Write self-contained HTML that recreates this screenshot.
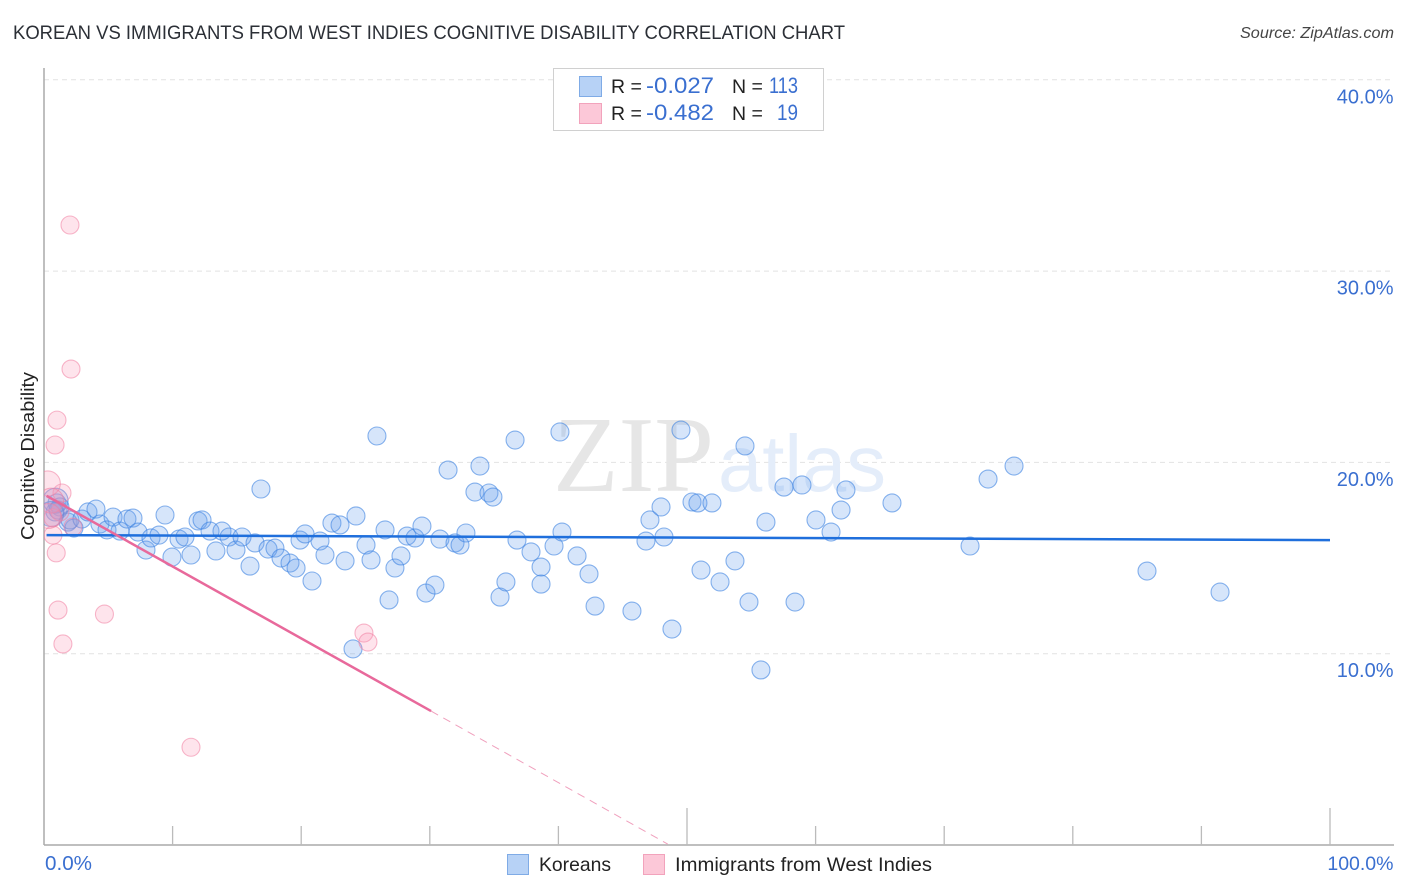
<!DOCTYPE html>
<html lang="en">
<head>
<meta charset="utf-8">
<title>Korean vs Immigrants from West Indies Cognitive Disability Correlation Chart</title>
<style>
html,body{margin:0;padding:0;background:#fff;}
svg{display:block;font-family:"Liberation Sans",sans-serif;}
</style>
</head>
<body>
<svg id="chart" xmlns="http://www.w3.org/2000/svg" width="1406" height="892" viewBox="0 0 1406 892">
  <defs>
    <clipPath id="plot-clip"><rect x="44" y="60" width="1350" height="785"/></clipPath>
  </defs>
  <rect x="0" y="0" width="1406" height="892" fill="#ffffff"/>
  <text x="13" y="39" font-size="19" fill="#2b2f36" textLength="832" lengthAdjust="spacingAndGlyphs">KOREAN VS IMMIGRANTS FROM WEST INDIES COGNITIVE DISABILITY CORRELATION CHART</text>
  <text x="1394" y="38" font-size="15.5" font-style="italic" fill="#444" text-anchor="end" textLength="154" lengthAdjust="spacingAndGlyphs">Source: ZipAtlas.com</text>
  <g id="grid"></g>
  <g>
    <text x="553" y="491" font-family="'Liberation Serif',serif" font-size="108" fill="#e6e6e6" textLength="161" lengthAdjust="spacingAndGlyphs">ZIP</text>
    <text x="718" y="491" font-size="80" fill="#e4edfa" textLength="168" lengthAdjust="spacingAndGlyphs">atlas</text>
  </g>
  <g id="axes">
    <line x1="44" y1="68" x2="44" y2="845" stroke="#aaaaaa" stroke-width="1.5"/>
    <line x1="44" y1="845" x2="1394" y2="845" stroke="#aaaaaa" stroke-width="1.5"/>
  </g>
  <g id="marks" clip-path="url(#plot-clip)"></g>
  <g id="trends"></g>
  <g id="ticklabels"></g>
  <text transform="translate(34,456) rotate(-90)" font-size="18" fill="#222" text-anchor="middle" textLength="168" lengthAdjust="spacingAndGlyphs">Cognitive Disability</text>

  <g>
    <rect x="553.5" y="68.5" width="270" height="62" fill="#ffffff" stroke="#d0d0d0"/>
    <rect x="579.5" y="76.5" width="22" height="20" fill="#b7d2f6" stroke="#7fabe6"/>
    <rect x="579.5" y="103.5" width="22" height="20" fill="#fcc8d8" stroke="#f2a3bc"/>
    <text x="611" y="93" font-size="19.5" fill="#222">R =</text>
    <text x="646" y="93" font-size="22" fill="#3a6fd0" textLength="68" lengthAdjust="spacingAndGlyphs">-0.027</text>
    <text x="732" y="93" font-size="19.5" fill="#222">N =</text>
    <text x="769" y="93" font-size="22" fill="#3a6fd0" textLength="29" lengthAdjust="spacingAndGlyphs">113</text>
    <text x="611" y="120" font-size="19.5" fill="#222">R =</text>
    <text x="646" y="120" font-size="22" fill="#3a6fd0" textLength="68" lengthAdjust="spacingAndGlyphs">-0.482</text>
    <text x="732" y="120" font-size="19.5" fill="#222">N =</text>
    <text x="777" y="120" font-size="22" fill="#3a6fd0" textLength="21" lengthAdjust="spacingAndGlyphs">19</text>
  </g>

  <g>
    <rect x="507.5" y="854.5" width="21" height="20" fill="#b7d2f6" stroke="#7fabe6"/>
    <text x="539" y="871" font-size="19.5" fill="#222" textLength="72" lengthAdjust="spacingAndGlyphs">Koreans</text>
    <rect x="643.5" y="854.5" width="21" height="20" fill="#fcc8d8" stroke="#f2a3bc"/>
    <text x="675" y="871" font-size="19.5" fill="#222" textLength="257" lengthAdjust="spacingAndGlyphs">Immigrants from West Indies</text>
  </g>
</svg>
<script>
// ---- data (x = share %, y = cognitive disability %) ----
const koreansX = [1.01,0.86,1.24,1.09,1.87,2.33,2.02,2.95,3.42,4.04,4.35,4.90,5.37,5.91,6.45,6.92,7.31,7.93,8.32,8.94,9.41,9.95,10.50,10.96,11.43,11.98,12.29,12.91,13.37,13.84,14.39,14.93,15.40,16.02,16.41,16.87,17.42,17.96,18.43,19.13,19.60,19.91,20.30,20.84,21.46,21.85,22.39,23.02,23.41,24.03,24.26,25.04,25.43,25.89,26.52,26.83,27.29,27.76,28.23,28.85,29.39,29.70,30.40,30.79,31.42,31.96,32.35,32.81,33.51,33.90,34.60,34.91,35.46,35.92,36.63,36.78,37.87,38.65,38.65,39.66,40.12,40.28,41.45,42.38,42.85,45.72,46.81,47.12,47.98,48.21,48.83,49.53,50.39,50.85,51.09,51.94,52.57,53.73,54.51,54.82,55.75,56.14,57.54,58.40,58.94,60.03,61.20,61.98,62.36,65.94,72.01,73.41,75.43,85.77,91.45];
const koreansY = [17.88,17.41,17.67,17.51,16.88,16.57,16.99,17.04,17.41,17.56,16.78,16.47,17.14,16.41,17.04,17.09,16.36,15.42,16.05,16.20,17.25,15.05,15.99,16.10,15.16,16.94,16.99,16.41,15.37,16.41,16.10,15.42,16.10,14.58,15.79,18.61,15.47,15.52,15.00,14.74,14.48,15.94,16.26,13.80,15.89,15.16,16.83,16.73,14.85,10.25,17.20,15.68,14.90,21.38,16.47,12.81,14.48,15.11,16.15,16.05,16.67,13.17,13.59,15.99,19.60,15.79,15.68,16.31,18.45,19.81,18.40,18.19,12.96,13.75,21.17,15.94,15.32,14.53,13.64,15.63,21.59,16.36,15.11,14.17,12.49,12.23,15.89,16.99,17.67,16.10,11.29,21.69,17.93,17.88,14.37,17.88,13.75,14.85,20.86,12.70,9.15,16.88,18.71,12.70,18.82,16.99,16.36,17.51,18.56,17.88,15.63,19.13,19.81,14.32,13.22];
const koreansLargeX = [0.90,0.55];
const koreansLargeY = [18.00,17.30];
const westIndiesX = [2.02,2.10,1.01,0.86,1.40,0.70,2.25,1.24,0.70,0.95,1.09,4.70,1.47,11.43,24.88,25.19];
const westIndiesY = [32.41,24.88,22.21,20.91,18.40,16.20,16.62,17.41,17.10,15.27,12.28,12.07,10.51,5.11,11.08,10.61];
const westIndiesLargeX = [0.30,0.55,0.35];
const westIndiesLargeY = [18.90,18.00,17.20];
const koreanTrendX = [0.2,100];
const koreanTrendY = [16.2,15.94];
const westIndiesTrendX = [0.2,30.1];
const westIndiesTrendY = [18.25,7.0];
const westIndiesDashX = [30.1,48.5];
const westIndiesDashY = [7.0,0.05];
const yTicks = [10,20,30,40];
const yTickLabels = ["10.0%","20.0%","30.0%","40.0%"];
const xTicks = [0,10,20,30,40,50,60,70,80,90,100];
const xMajorTicks = [50,100];
const xEndLabels = ["0.0%","100.0%"];

// ---- axis functions ----
const NS = "http://www.w3.org/2000/svg";
const xScale = v => 44 + v * 12.86;
const yScale = v => 845 - v * 19.13;
const marks = document.getElementById("marks");
const trends = document.getElementById("trends");
const grid = document.getElementById("grid");
const axes = document.getElementById("axes");
const labels = document.getElementById("ticklabels");

function make(tag, parent, attrs) {
  const el = document.createElementNS(NS, tag);
  for (const k in attrs) el.setAttribute(k, attrs[k]);
  parent.appendChild(el);
  return el;
}

const KOREAN_FILL = "rgba(105,160,235,0.27)";
const KOREAN_STROKE = "rgba(60,130,225,0.60)";
const WI_FILL = "rgba(250,150,180,0.26)";
const WI_STROKE = "rgba(240,125,160,0.55)";

function drawPoints(xs, ys, r, fill, stroke, name) {
  xs.forEach((x, i) => {
    const c = make("circle", marks, {cx: xScale(x), cy: yScale(ys[i]), r: r, fill: fill, stroke: stroke, "stroke-width": 1.1});
    
    
  });
}

function drawLine(xs, ys, color, width, dash, name) {
  const l = make("line", trends, {x1: xScale(xs[0]), y1: yScale(ys[0]), x2: xScale(xs[1]), y2: yScale(ys[1]), stroke: color, "stroke-width": width});
  if (dash) l.setAttribute("stroke-dasharray", dash);
  
  
}

yTicks.forEach((v, i) => {
  const g = make("line", grid, {x1: 44, y1: yScale(v), x2: 1394, y2: yScale(v), stroke: "#e2e2e2", "stroke-width": 1, "stroke-dasharray": "5,4"});
  
  
  const t = make("text", labels, {x: 1393.5, y: yScale(v) + 23.5, "font-size": 20, fill: "#3a6fd0", "text-anchor": "end"});
  t.textContent = yTickLabels[i];
  
  
});

xTicks.forEach(v => {
  if (v === 0) return;
  const major = xMajorTicks.includes(v);
  const tk = make("line", axes, {x1: xScale(v), y1: major ? 808 : 826, x2: xScale(v), y2: 845, stroke: "#bbbbbb", "stroke-width": 1.3});
  
  
});

const x0Label = make("text", labels, {x: 45, y: 870, "font-size": 20, fill: "#3a6fd0", textLength: 47, lengthAdjust: "spacingAndGlyphs"});
x0Label.textContent = xEndLabels[0];


const x1Label = make("text", labels, {x: 1393.5, y: 870, "font-size": 19.5, fill: "#3a6fd0", "text-anchor": "end"});
x1Label.textContent = xEndLabels[1];



drawPoints(koreansX, koreansY, 9, KOREAN_FILL, KOREAN_STROKE, "korean-point");
drawPoints(koreansLargeX, koreansLargeY, 12.5, KOREAN_FILL, KOREAN_STROKE, "korean-point-large");
drawPoints(westIndiesX, westIndiesY, 9, WI_FILL, WI_STROKE, "west-indies-point");
drawPoints(westIndiesLargeX, westIndiesLargeY, 12.5, WI_FILL, WI_STROKE, "west-indies-point-large");

drawLine(koreanTrendX, koreanTrendY, "#1f6fdc", 2.5, null, "korean-trend-line");
drawLine(westIndiesTrendX, westIndiesTrendY, "#e8699b", 2.5, null, "west-indies-trend-line");
drawLine(westIndiesDashX, westIndiesDashY, "#f0a0bd", 1, "8,6", "west-indies-trend-extension");
</script>
</body>
</html>
